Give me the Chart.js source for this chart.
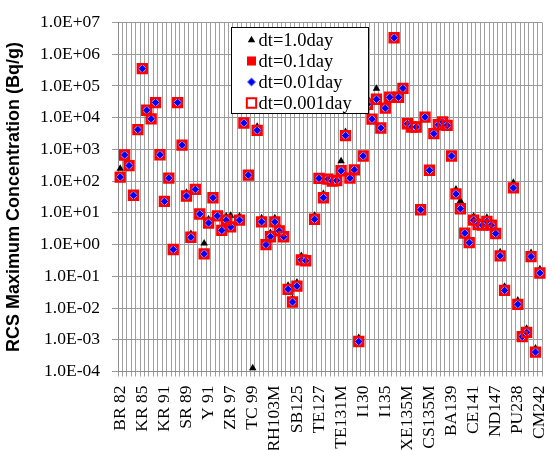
<!DOCTYPE html>
<html>
<head>
<meta charset="utf-8">
<script src="https://cdn.jsdelivr.net/npm/chart.js@4.4.1/dist/chart.umd.min.js"></script>
<style>
  html, body { margin: 0; padding: 0; background: #fff; overflow: hidden; }
  #wrap { width: 552px; height: 450px; overflow: hidden; }
</style>
</head>
<body>
<div id="wrap"><canvas id="chart" width="570" height="450"></canvas></div>
<script>
// --- DATA ---
// every 5th nuclide gets a label on the category axis
const tickLabels = ['BR 82', 'KR 85', 'KR 91', 'SR 89', 'Y 91', 'ZR 97', 'TC 99', 'RH103M', 'SB125', 'TE127',
                    'TE131M', 'I130', 'I135', 'XE135M', 'CS135M', 'BA139', 'CE141', 'ND147', 'PU238', 'CM242'];
const labelStep = 5;
const nCats = 96;
const categories = Array.from({ length: nCats }, (_, i) => (i % labelStep === 0 ? tickLabels[i / labelStep] : ''));

const yTicks = [1e-4, 1e-3, 1e-2, 1e-1, 1e0, 1e1, 1e2, 1e3, 1e4, 1e5, 1e6, 1e7];

const dt1 = [
  250, 667, 310, 36, 4200, 350000, 17200, 9200, 30000, 680,
  23, 124, 0.70, 30000, 1370, 44, 2.2, 55, 9.2, 1.1,
  6.4, 30, 8.0, 2.8, 7.8, 8.2, null, 7.8, 6800, 155,
  0.000128, 5300, 6.9, 1.0, 2.35, 6.9, 3.6, 1.77, 0.051, 0.020,
  0.065, 0.44, 0.31, null, 8.3, 122, 40, 116, 130, 105,
  430, 3600, 124, 227, 0.00115, 621, 40000, 9000, 83000, 4730,
  19900, 44000, 3300000, 44000, 84000, 6450, 5080, 5080, 12.5, 10400,
  220, 3140, 6000, 7400, 5700, 621, 55, 24, 2.3, 1.15,
  7.8, 5.7, 4.1, 7.1, 4.1, 2.24, 0.58, 0.048, null, 90,
  0.0175, 0.00126, 0.00225, 0.55, 0.00054, 0.168
];
const dt01 = [
  134, 667, 310, 36, 4200, 350000, 17200, 9200, 30000, 680,
  23, 124, 0.70, 30000, 1370, 34, 1.7, 55, 9.2, 0.51,
  4.8, 30, 8.0, 2.8, 5.9, 3.6, null, 5.9, 6800, 155,
  null, 4000, 5.2, 1.0, 1.77, 5.2, 2.7, 1.77, 0.039, 0.0155,
  0.049, 0.33, 0.31, null, 6.3, 122, 30, 116, 100, 105,
  212, 2720, 124, 227, 0.00088, 621, 26500, 9000, 38000, 4730,
  19900, 44000, 3300000, 44000, 84000, 6450, 5080, 5080, 12.5, 10400,
  220, 3140, 6000, 7400, 5700, 621, 39.5, 13.5, 2.3, 1.15,
  5.9, 4.3, 4.1, 5.4, 4.1, 2.24, 0.44, 0.036, null, 61,
  0.0131, 0.00126, 0.00171, 0.42, 0.00041, 0.127
];
const dt001 = [
  134, 667, 310, 36, 4200, 350000, 17200, 9200, 30000, 680,
  23, 124, 0.70, 30000, 1370, 34, 1.7, 55, 9.2, 0.51,
  4.8, 30, 8.0, 2.8, 5.9, 3.6, null, 5.9, 6800, 155,
  null, 4000, 5.2, 1.0, 1.77, 5.2, 2.7, 1.77, 0.039, 0.0155,
  0.049, 0.33, 0.31, null, 6.3, 122, 30, 116, 100, 105,
  212, 2720, 124, 227, 0.00088, 621, 26500, 9000, 38000, 4730,
  19900, 44000, 3300000, 44000, 84000, 6450, 5080, 5080, 12.5, 10400,
  220, 3140, 6000, 7400, 5700, 621, 39.5, 13.5, 2.3, 1.15,
  5.9, 4.3, 4.1, 5.4, 4.1, 2.24, 0.44, 0.036, null, 61,
  0.0131, 0.00126, 0.00171, 0.42, 0.00041, 0.127
];
const dt0001 = [
  134, 667, 310, 36, 4200, 350000, 17200, 9200, 30000, 680,
  23, 124, 0.70, 30000, 1370, 34, 1.7, 55, 9.2, 0.51,
  4.8, 30, 8.0, 2.8, 5.9, 3.6, null, 5.9, 6800, 155,
  null, 4000, 5.2, 1.0, 1.77, 5.2, 2.7, 1.77, 0.039, 0.0155,
  0.049, 0.33, 0.31, null, 6.3, 122, 30, 116, 100, 105,
  212, 2720, 124, 227, 0.00088, 621, 26500, 9000, 38000, 4730,
  19900, 44000, 3300000, 44000, 84000, 6450, 5080, 5080, 12.5, 10400,
  220, 3140, 6000, 7400, 5700, 621, 39.5, 13.5, 2.3, 1.15,
  5.9, 4.3, 4.1, 5.4, 4.1, 2.24, 0.44, 0.036, null, 61,
  0.0131, 0.00126, 0.00171, 0.42, 0.00041, 0.127
];

// --- HELPERS ---
function sciLabel(v) {
  const e = Math.round(Math.log10(v));
  const m = (v / Math.pow(10, e)).toFixed(1);
  return m + 'E' + (e < 0 ? '-' : '+') + String(Math.abs(e)).padStart(2, '0');
}

// legend drawn as a framed box inside the plot, like the spreadsheet one
const boxLegend = {
  id: 'boxLegend',
  afterDraw(chart) {
    const ctx = chart.ctx;
    const x0 = 231.5, y0 = 27.5, w = 137, h = 86;
    ctx.save();
    ctx.fillStyle = '#fff';
    ctx.fillRect(x0, y0, w, h);
    ctx.strokeStyle = '#000';
    ctx.lineWidth = 1;
    ctx.strokeRect(x0, y0, w, h);
    ctx.font = '18.5px "Liberation Serif"';
    ctx.textBaseline = 'middle';
    chart.data.datasets.forEach((ds, i) => {
      const cy = y0 + 12.5 + i * 21;
      const cx = x0 + 20;
      ctx.fillStyle = ds.pointBackgroundColor;
      ctx.strokeStyle = ds.pointBorderColor;
      ctx.lineWidth = ds.pointBorderWidth;
      Chart.helpers.drawPoint(ctx, {
        pointStyle: ds.pointStyle, radius: ds.pointRadius, borderWidth: ds.pointBorderWidth, rotation: 0
      }, cx, cy);
      ctx.fillStyle = '#000';
      ctx.fillText(ds.label, cx + 7, cy + 1);
    });
    ctx.restore();
  }
};

const ctx = document.getElementById('chart').getContext('2d');
new Chart(ctx, {
  type: 'line',
  data: {
    labels: categories,
    datasets: [
      { label: 'dt=1.0day', data: dt1, order: 4, pointStyle: 'triangle', pointRadius: 4.3,
        pointBackgroundColor: '#000', pointBorderColor: '#000', pointBorderWidth: 0 },
      { label: 'dt=0.1day', data: dt01, order: 3, pointStyle: 'rect', pointRadius: 6.4,
        pointBackgroundColor: '#ff0000', pointBorderColor: '#ff0000', pointBorderWidth: 0 },
      { label: 'dt=0.01day', data: dt001, order: 2, pointStyle: 'rectRot', pointRadius: 4.2,
        pointBackgroundColor: '#0000ff', pointBorderColor: '#9a9aff', pointBorderWidth: 1 },
      { label: 'dt=0.001day', data: dt0001, order: 1, pointStyle: 'rect', pointRadius: 6.6,
        pointBackgroundColor: 'rgba(0,0,0,0)', pointBorderColor: '#ff0000', pointBorderWidth: 2 }
    ].map(d => Object.assign(d, { showLine: false, clip: false, pointHoverRadius: d.pointRadius }))
  },
  options: {
    responsive: false,
    animation: false,
    devicePixelRatio: 1,
    layout: { padding: { top: 18.3, right: 18.6, left: 0, bottom: 0 } },
    plugins: { legend: { display: false }, tooltip: { enabled: false } },
    scales: {
      x: {
        type: 'category',
        offset: true,
        grid: { offset: true, color: '#a0a0a0', lineWidth: 1, tickLength: 5 },
        border: { color: '#8c8c8c' },
        ticks: {
          autoSkip: false, minRotation: 90, maxRotation: 90, padding: 9,
          color: '#000', font: { family: 'Liberation Serif', size: 17.5 }
        },
        afterFit: s => { s.height = 78.5; }
      },
      y: {
        type: 'logarithmic',
        min: 1e-4,
        max: 1e7,
        grid: { color: '#999', lineWidth: 1, tickLength: 6 },
        border: { color: '#8c8c8c' },
        afterBuildTicks: s => { s.ticks = yTicks.map(value => ({ value })); },
        ticks: {
          padding: 12, color: '#000', font: { family: 'Liberation Serif', size: 17.5 },
          callback: v => sciLabel(v)
        },
        title: {
          display: true, text: 'RCS Maximum Concentration (Bq/g)', color: '#000',
          font: { family: 'Liberation Sans', weight: 'bold', size: 18 }, padding: { top: 3, bottom: 0 }
        },
        afterFit: s => { s.width = 118; }
      }
    }
  },
  plugins: [boxLegend]
});
</script>
</body>
</html>
